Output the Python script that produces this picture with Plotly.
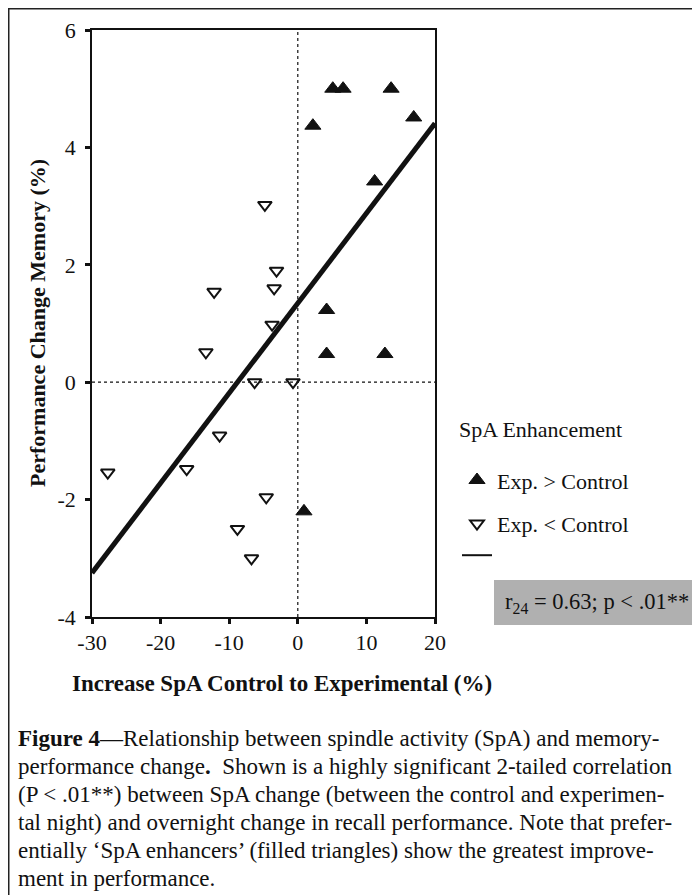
import plotly.graph_objects as go

# ---- data ----
enh_x = [5.1, 6.6, 13.6, 16.9, 2.2, 11.2, 4.2, 4.2, 12.7, 0.9]
enh_y = [5.0, 5.0, 5.0, 4.51, 4.37, 3.42, 1.23, 0.48, 0.48, -2.2]

red_x = [-4.8, -3.1, -3.45, -12.2, -3.75, -13.4, -6.3, -0.7, -11.4, -16.2, -27.7, -4.6, -8.8, -6.75]
red_y = [3.02, 1.9, 1.6, 1.54, 0.98, 0.51, 0.0, 0.0, -0.91, -1.48, -1.54, -1.96, -2.5, -3.0]

fit_x = [-30, 20]
fit_y = [-3.25, 4.41]

x_ticks = [-30, -20, -10, 0, 10, 20]
x_tick_labels = ["-30", "-20", "-10", "0", "10", "20"]
y_ticks = [-4, -2, 0, 2, 4, 6]
y_tick_labels = ["-4", "-2", "0", "2", "4", "6"]

caption_lines = [
    "<b>Figure 4</b>—Relationship between spindle activity (SpA) and memory-",
    "performance change<b>.</b>\u00a0 Shown is a highly significant 2-tailed correlation",
    "(P &lt; .01**) between SpA change (between the control and experimen-",
    "tal night) and overnight change in recall performance. Note that prefer-",
    "entially ‘SpA enhancers’ (filled triangles) show the greatest improve-",
    "ment in performance.",
]
caption_px_y = [738, 766, 794, 822, 850, 878]

FONT = "Liberation Serif"
INK = "#111111"

# page geometry (the page body adds an 8 px offset to the figure)
OFF = 8
W, H = 700 - OFF, 895 - OFF
L, R, T, B = 92, 435, 30, 617          # plot area, page pixels
pw, ph = R - L, B - T


def px(xp):
    return (xp - L) / pw


def py(yp):
    return (B - yp) / ph


fig = go.Figure()

# regression line (legend entry is drawn by a thin proxy below)
fig.add_trace(go.Scatter(
    x=fit_x, y=fit_y, mode="lines",
    line=dict(color=INK, width=5),
    name="fit", showlegend=False,
))
fig.add_trace(go.Scatter(
    x=enh_x, y=enh_y, mode="markers",
    marker=dict(symbol="triangle-up", size=14, color=INK, line=dict(color=INK, width=1)),
    name="Exp. &gt; Control", legendgroup="g1", legendrank=1,
))
fig.add_trace(go.Scatter(
    x=red_x, y=red_y, mode="markers",
    marker=dict(symbol="triangle-down-open", size=12, color=INK, line=dict(color=INK, width=2)),
    name="Exp. &lt; Control", legendgroup="g2", legendrank=2,
))
fig.add_trace(go.Scatter(
    x=[None], y=[None], mode="lines",
    line=dict(color=INK, width=2),
    name="", legendgroup="g2", legendrank=3, showlegend=True, hoverinfo="skip",
))

fig.add_vline(x=0, line=dict(color=INK, width=1.2, dash="dot"), layer="below")
fig.add_hline(y=0, line=dict(color=INK, width=1.2, dash="dot"), layer="below")

axis_common = dict(
    showline=True, linecolor=INK, linewidth=1.5, mirror=True,
    showgrid=False, zeroline=False,
    ticks="outside", ticklen=5, tickwidth=3, tickcolor=INK,
    tickfont=dict(family=FONT, size=22, color=INK),
)

fig.update_xaxes(
    range=[-30, 20], tickmode="array", tickvals=x_ticks, ticktext=x_tick_labels,
    **axis_common,
)
fig.update_yaxes(
    range=[-4, 6], tickmode="array", tickvals=y_ticks, ticktext=y_tick_labels,
    ticklabelstandoff=5,
    **axis_common,
)

# axis titles
fig.add_annotation(xref="paper", yref="paper", x=px(282), y=py(683),
                   xanchor="center", yanchor="middle", showarrow=False,
                   text="<b>Increase SpA Control to Experimental (%)</b>",
                   font=dict(family=FONT, size=23, color=INK))
fig.add_annotation(xref="paper", yref="paper", x=px(37), y=py(323),
                   xanchor="center", yanchor="middle", showarrow=False, textangle=-90,
                   text="<b>Performance Change Memory (%)</b>",
                   font=dict(family=FONT, size=22, color=INK))

# stats box
fig.add_shape(type="rect", xref="paper", yref="paper",
              x0=px(494), x1=px(720), y0=py(625), y1=py(580),
              fillcolor="#b0b0b0", line=dict(width=0), layer="below")
fig.add_annotation(xref="paper", yref="paper", x=px(504), y=py(603),
                   xanchor="left", yanchor="middle", showarrow=False, borderpad=0,
                   text="r<sub>24</sub> = 0.63; p &lt; .01**",
                   font=dict(family=FONT, size=22.5, color=INK))

# figure frame (left and top rules), drawn at the figure's edge
fig.add_shape(type="line", xref="paper", yref="paper",
              x0=px(OFF), x1=px(OFF), y0=py(OFF - 2), y1=py(910),
              line=dict(color="#222222", width=3))
fig.add_shape(type="line", xref="paper", yref="paper",
              x0=px(OFF - 2), x1=px(720), y0=py(OFF), y1=py(OFF),
              line=dict(color="#222222", width=3))

# caption
for line, yp in zip(caption_lines, caption_px_y):
    fig.add_annotation(xref="paper", yref="paper", x=px(17), y=py(yp),
                       xanchor="left", yanchor="middle", showarrow=False, borderpad=0,
                       text=line, font=dict(family=FONT, size=23, color=INK))

fig.update_layout(
    width=W, height=H,
    margin=dict(l=L - OFF, r=W - (R - OFF), t=T - OFF, b=H - (B - OFF), autoexpand=False),
    paper_bgcolor="white", plot_bgcolor="white",
    font=dict(family=FONT, color=INK),
    showlegend=True,
    legend=dict(
        x=px(457), y=py(415), xanchor="left", yanchor="top",
        title=dict(text="<span style='font-size:22px'>SpA Enhancement</span><br> ",
                   font=dict(family=FONT, size=17, color=INK)),
        font=dict(family=FONT, size=22, color=INK),
        traceorder="grouped", tracegroupgap=12,
        bgcolor="rgba(0,0,0,0)", borderwidth=0,
    ),
)

fig.write_html("out.html")
